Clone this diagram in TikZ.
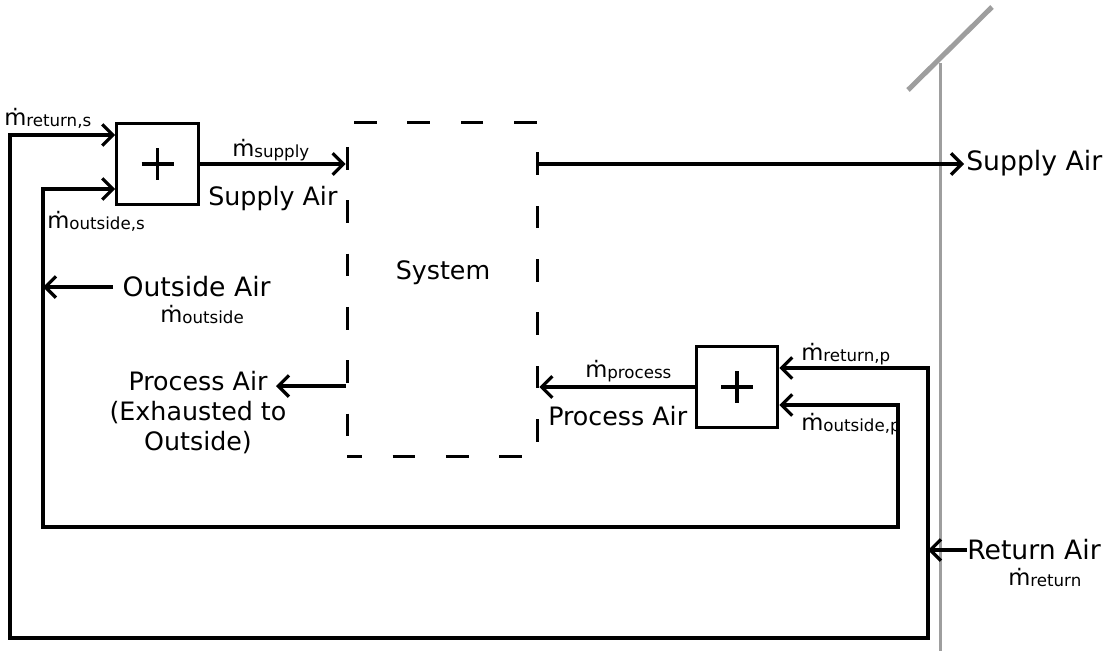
\documentclass[tikz,border=0pt]{standalone}
\usepackage{fontspec}
\setmainfont{DejaVu Sans}
\usetikzlibrary{arrows.meta}
\newcommand{\md}[1]{{\fontsize{17pt}{17pt}\selectfont ṁ\raisebox{-1pt}{\fontsize{12.5pt}{12.5pt}\selectfont #1}}}
\begin{document}
\begin{tikzpicture}[x=0.75pt,y=-0.75pt,
  wire/.style={line width=2.4pt, line join=miter},
  arr/.style={wire,-{Straight Barb[length=8pt,width=16pt]}},
  mixer/.style={draw, line width=2.4pt, minimum size=61pt, inner sep=0pt},
  sysbox/.style={draw, line width=2.4pt, dash pattern=on 17pt off 23pt, dash phase=6pt, minimum width=143pt, minimum height=250pt, inner sep=0pt},
  lbl/.style={font=\fontsize{19pt}{22.5pt}\selectfont, inner sep=0pt},
  biglbl/.style={font=\fontsize{20pt}{23pt}\selectfont, inner sep=0pt},
  sublbl/.style={inner sep=0pt, anchor=base west},
  wall/.style={draw=black!38, line width=2.25pt},
]
\useasboundingbox (0,0) rectangle (1114,651);

% walls
\draw[wall] (940,63) -- (940,651);
\draw[wall, line width=3.75pt] (908,90) -- (992,7);

% boxes
\node[mixer] (ms) at (157.5,164) {};
\node[mixer] (mp) at (737,387) {};
\draw[wire] (ms.center) ++(-16,0) -- ++(32,0) (ms.center) ++(0,-16) -- ++(0,32);
\draw[wire] (mp.center) ++(-16,0) -- ++(32,0) (mp.center) ++(0,-16) -- ++(0,32);
\node[sysbox] (sys) at (442.5,289.5) {};
\node[lbl] (systxt) at (443,273) {System};

% text labels
\node[biglbl, anchor=west] (supR) at (966,163) {Supply Air};
\node[biglbl, anchor=west] (retR) at (967,550) {Return Air};
\node[biglbl, anchor=west, inner xsep=7pt] (outL) at (113,287) {Outside Air};
\node[lbl, anchor=base west] (supB) at (208,205) {Supply Air};
\node[lbl, anchor=base west] (proB) at (548,425) {Process Air};
\node[lbl, align=center] (proL) at (198,413) {Process Air\\(Exhausted to\\Outside)};

\node[sublbl] (mrs) at (4,125) {\md{return,s}};
\node[sublbl] (mos) at (47,228) {\md{outside,s}};
\node[sublbl] (msup) at (232,156) {\md{supply}};
\node[sublbl] (mout) at (160,322) {\md{outside}};
\node[sublbl] (mpro) at (585,377) {\md{process}};
\node[sublbl] (mrp) at (801,360) {\md{return,p}};
\node[sublbl] (mop) at (801,430) {\md{outside,p}};
\node[sublbl] (mret) at (1008,585) {\md{return}};

% coordinates
\coordinate (jr) at (928,550);
\coordinate (jo) at (43,287);
\coordinate (supout) at (964,164);
\coordinate (pe) at (276,386);
\coordinate (r1) at (928,368);
\coordinate (r2) at (928,638);
\coordinate (r3) at (10,638);
\coordinate (r4) at (10,135);
\coordinate (o1) at (43,189);
\coordinate (o2) at (43,527);
\coordinate (o3) at (898,527);
\coordinate (o4) at (898,405);

% connectors
\draw[arr] (ms.east) -- (ms.east -| sys.west);
\draw[arr] (supout -| sys.east) -- (supout);
\draw[arr] (mp.west) -- (mp.west -| sys.east);
\draw[arr] (pe -| sys.west) -- (pe);
\draw[arr] (retR.west) -- (jr);
\draw[arr] (outL.west) -- (jo);
\draw[arr] (jr) -- (r1) -- (r1 -| mp.east);
\draw[arr] (jr) -- (r2) -- (r3) -- (r4) -- (r4 -| ms.west);
\draw[arr] (jo) -- (o1) -- (o1 -| ms.west);
\draw[arr] (jo) -- (o2) -- (o3) -- (o4) -- (o4 -| mp.east);
\end{tikzpicture}
\end{document}
